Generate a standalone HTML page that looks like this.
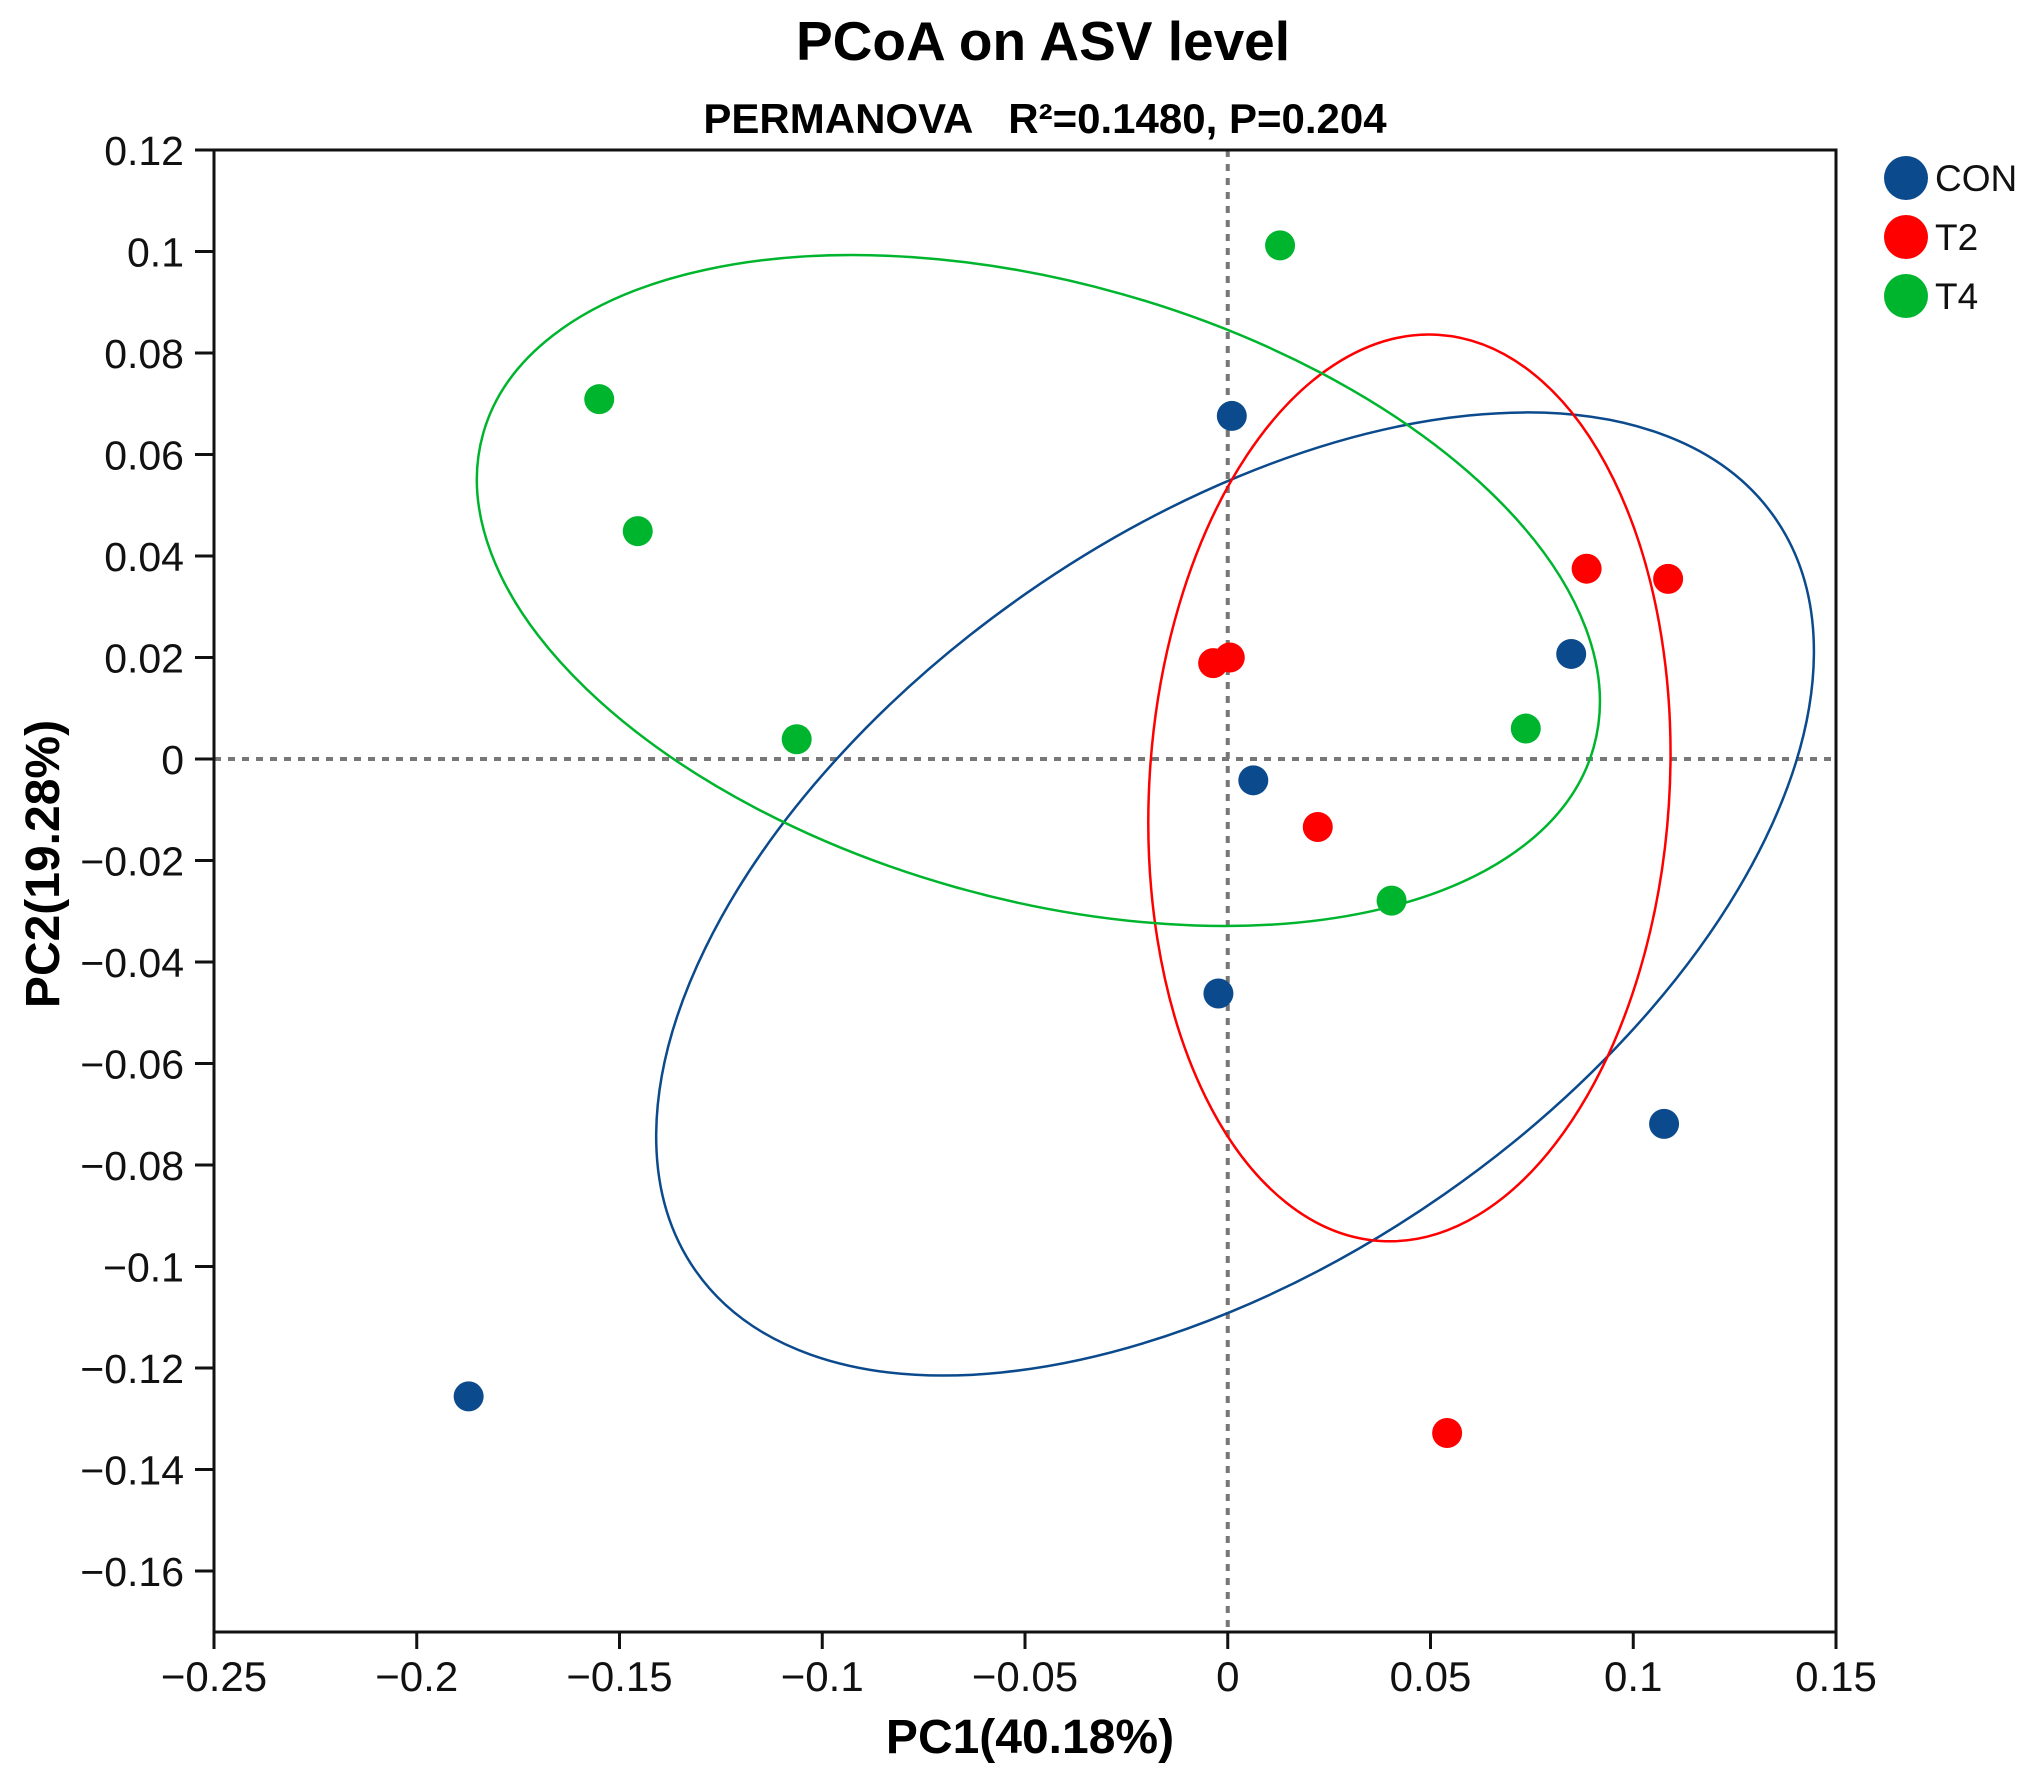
<!DOCTYPE html>
<html><head><meta charset="utf-8"><style>
html,body{margin:0;padding:0;background:#fff;}
svg{display:block;font-family:"Liberation Sans",Arial,sans-serif;}
</style></head><body>
<svg id="chart" width="2026" height="1776" viewBox="0 0 2026 1776" xmlns="http://www.w3.org/2000/svg">
<text x="1043" y="60" text-anchor="middle" font-size="55" font-weight="bold">PCoA on ASV level</text>
<text x="1045" y="133" text-anchor="middle" font-size="42" font-weight="bold">PERMANOVA&#160;&#160;&#160;R²=0.1480, P=0.204</text>
<g id="plot"></g>
<text x="1030" y="1753" text-anchor="middle" font-size="48" font-weight="bold">PC1(40.18%)</text>
<text transform="translate(59,864) rotate(-90)" text-anchor="middle" font-size="48" font-weight="bold">PC2(19.28%)</text>
</svg>
<script>
const groups = ['CON','T2','T4'];
const colors = ['#0b4a8c','#ff0000','#00b52e'];
const conX = [0.001, 0.0847, 0.0063, -0.0023, 0.1076, -0.1872];
const conY = [0.0676, 0.0207, -0.0042, -0.0462, -0.0719, -0.1256];
const t2X = [0.0885, 0.1086, -0.0036, 0.0005, 0.0222, 0.0541];
const t2Y = [0.0375, 0.0355, 0.0189, 0.0200, -0.0134, -0.1328];
const t4X = [0.0129, -0.155, -0.1455, -0.1063, 0.0735, 0.0404];
const t4Y = [0.1012, 0.0709, 0.0449, 0.0039, 0.0060, -0.0279];
const ellipseCX = [0.0018, 0.0448, -0.0467];
const ellipseCY = [-0.0266, -0.0057, 0.0332];
const xTicks = [-0.25,-0.2,-0.15,-0.1,-0.05,0,0.05,0.1,0.15];
const xTickLabels = ['\u22120.25','\u22120.2','\u22120.15','\u22120.1','\u22120.05','0','0.05','0.1','0.15'];
const yTicks = [0.12,0.1,0.08,0.06,0.04,0.02,0,-0.02,-0.04,-0.06,-0.08,-0.1,-0.12,-0.14,-0.16];
const yTickLabels = ['0.12','0.1','0.08','0.06','0.04','0.02','0','\u22120.02','\u22120.04','\u22120.06','\u22120.08','\u22120.1','\u22120.12','\u22120.14','\u22120.16'];

const NS='http://www.w3.org/2000/svg';
const X0=214, X1=1836, Y0=150, YB=1632;
function sx(v){return X0+(v+0.25)/0.4*(X1-X0);}
function sy(v){return 150+(0.12-v)/0.28*1421;}
const plot=document.getElementById('plot');
function mk(tag,attrs){const e=document.createElementNS(NS,tag);for(const k in attrs)e.setAttribute(k,attrs[k]);plot.appendChild(e);return e;}

let e=mk('line',{x1:sx(0),x2:sx(0),y1:Y0,y2:YB,stroke:'#777','stroke-width':4,'stroke-dasharray':'7,7'});


e=mk('line',{x1:X0,x2:X1,y1:sy(0),y2:sy(0),stroke:'#777','stroke-width':4,'stroke-dasharray':'7,7'});



const eShape=[[658,366,-34.9],[260,454,3.7],[577,308,15.8]];
for(let i=0;i<3;i++){
  const cx=sx(ellipseCX[i]), cy=sy(ellipseCY[i]);
  e=mk('ellipse',{cx:cx,cy:cy,rx:eShape[i][0],ry:eShape[i][1],transform:`rotate(${eShape[i][2]} ${cx} ${cy})`,fill:'none',stroke:colors[i],'stroke-width':2.5});
  
  
}

e=mk('rect',{x:X0,y:Y0,width:X1-X0,height:YB-Y0,fill:'none',stroke:'#111','stroke-width':3});



xTicks.forEach((t,i)=>{
  const x=sx(t);
  let l=mk('line',{x1:x,x2:x,y1:YB,y2:YB+17,stroke:'#111','stroke-width':3});
  
  
  let tx=mk('text',{x:x,y:1691,'text-anchor':'middle','font-size':42,fill:'#111'});
  tx.textContent=xTickLabels[i];
  
  
});
yTicks.forEach((t,i)=>{
  const y=sy(t);
  let l=mk('line',{x1:195,x2:X0,y1:y,y2:y,stroke:'#111','stroke-width':3});
  
  
  let tx=mk('text',{x:184,y:y+15,'text-anchor':'end','font-size':41,fill:'#111'});
  tx.textContent=yTickLabels[i];
  
  
});

const allX=[conX,t2X,t4X], allY=[conY,t2Y,t4Y];
for(let g=0;g<3;g++){
  for(let j=0;j<allX[g].length;j++){
    const c=mk('circle',{cx:sx(allX[g][j]),cy:sy(allY[g][j]),r:15,fill:colors[g]});
    
    
  }
}

for(let g=0;g<3;g++){
  const y=178+g*59;
  const c=mk('circle',{cx:1906,cy:y,r:22,fill:colors[g]});
  
  
  const t=mk('text',{x:1935,y:y+13,'font-size':37,fill:'#111'});
  t.textContent=groups[g];
  
  
}
</script>
</body></html>
